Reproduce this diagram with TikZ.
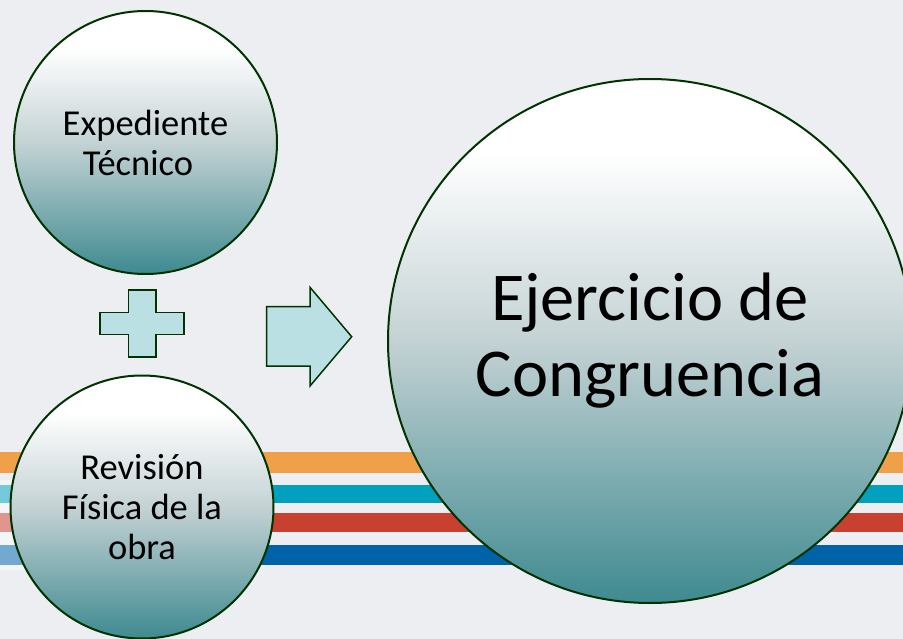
\documentclass[tikz,border=0pt]{standalone}
\usepackage{fontspec}
\setmainfont{Carlito}
\definecolor{bg}{RGB}{236,238,242}
\definecolor{sOrange}{RGB}{240,160,72}
\definecolor{sTeal}{RGB}{0,160,190}
\definecolor{sRed}{RGB}{200,64,47}
\definecolor{sBlue}{RGB}{0,98,168}
\definecolor{edge}{RGB}{0,51,0}
\definecolor{tealdark}{RGB}{62,138,144}
\definecolor{tealmid}{RGB}{196,210,212}
\definecolor{shapefill}{RGB}{187,224,227}
\pgfdeclareverticalshading{bubbleshade}{100bp}{color(0bp)=(tealdark); color(25bp)=(tealdark); color(50bp)=(tealmid); color(68bp)=(white); color(100bp)=(white)}
\tikzset{
  bubble/.style={circle, draw=edge, line width=2pt, shading=bubbleshade, align=center, inner sep=0pt, text=black},
  smallbubble/.style={bubble, minimum size=263pt, font=\fontsize{36.5}{40}\selectfont},
  bigbubble/.style={bubble, minimum size=524pt, font=\fontsize{68.5}{76}\selectfont},
  glyph/.style={draw=edge, line width=1.5pt, fill=shapefill, line join=miter}
}
\begin{document}
\begin{tikzpicture}[x=1pt,y=-1pt]
\useasboundingbox (0,0) rectangle (903,639);
\fill[bg] (0,0) rectangle (903,639);
% stripes
\fill[sOrange] (0,452) rectangle (903,473);
\fill[sTeal] (0,485) rectangle (903,503);
\fill[sRed] (0,513) rectangle (903,532);
\fill[sBlue] (0,545) rectangle (903,565);
\fill[white, opacity=0.45] (0,480) rectangle (40,570);
% circles
\node[smallbubble] (exp) at (145.5,142.5) {Expediente\\Técnico\hspace*{15pt}};
\node[smallbubble] (rev) at (142,507) {Revisión\\Física de la\\obra};
\node[bigbubble] (ej) at (650,341) {Ejercicio de\\Congruencia};
% plus sign
\draw[glyph] (128.3,290) -- (156,290) -- (156,312.3) -- (184,312.3) -- (184,334.3) -- (156,334.3) -- (156,357) -- (128.3,357) -- (128.3,334.3) -- (100,334.3) -- (100,312.3) -- (128.3,312.3) -- cycle;
% arrow
\draw[glyph] (266.7,306.7) -- (310,306.7) -- (310,287.3) -- (351.7,336.7) -- (310,386) -- (310,366) -- (266.7,366) -- cycle;
\end{tikzpicture}
\end{document}
